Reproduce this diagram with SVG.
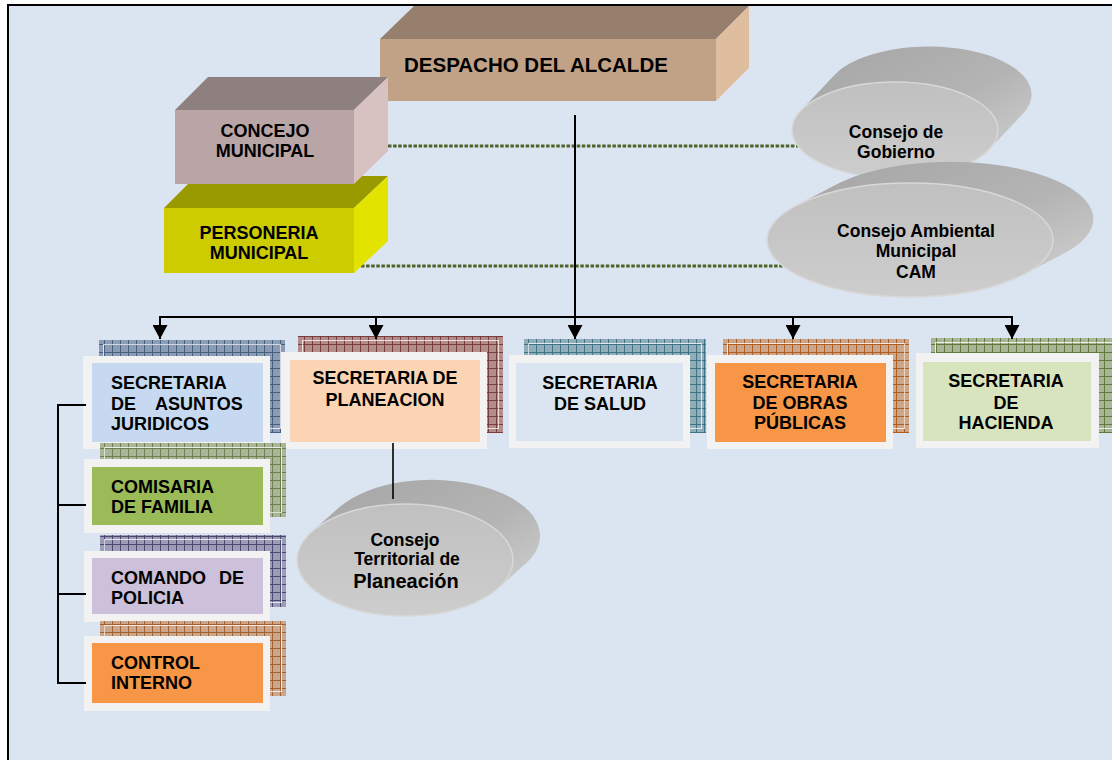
<svg xmlns="http://www.w3.org/2000/svg" width="1112" height="760" viewBox="0 0 1112 760">
<defs>
<style>
text{font-family:"Liberation Sans",Arial,sans-serif;font-weight:bold;fill:#000}
.t18{font-size:18px}
.t17{font-size:17.5px}
.mid{text-anchor:middle}
.frame{fill:#F2F2F2}
.conn{fill:none;stroke:#000;stroke-width:2}
.dot{fill:none;stroke:#4F6228;stroke-width:3;stroke-dasharray:3.5 1.6}
.hl{fill:none;stroke:#FFFFFF;stroke-opacity:0.75;stroke-width:1}
.cylBody{fill:url(#gBody)}
.cylFront{fill:url(#gFront);stroke:#D8D8D8;stroke-width:1.5}
</style>
<marker id="arr" viewBox="0 0 14 15" refX="14" refY="7.5" markerWidth="14" markerHeight="15" markerUnits="userSpaceOnUse" orient="auto"><path d="M0,0 L14,7.5 L0,15 z" fill="#000"/></marker>
<linearGradient id="gBody" x1="0" y1="0" x2="1" y2="1"><stop offset="0" stop-color="#A4A4A4"/><stop offset="0.55" stop-color="#B4B4B4"/><stop offset="1" stop-color="#D6D6D6"/></linearGradient>
<linearGradient id="gFront" x1="0" y1="0" x2="0" y2="1"><stop offset="0" stop-color="#C0C0C0"/><stop offset="1" stop-color="#CDCDCD"/></linearGradient>
<pattern id="pJur" width="8" height="8" patternUnits="userSpaceOnUse"><rect width="8" height="8" fill="#8C9CB4"/><path d="M0 0.5H8M0.5 0V8" stroke="#44607F" stroke-width="1"/></pattern>
<pattern id="pPla" width="8" height="8" patternUnits="userSpaceOnUse"><rect width="8" height="8" fill="#B38C8C"/><path d="M0 0.5H8M0.5 0V8" stroke="#7A3B3B" stroke-width="1"/></pattern>
<pattern id="pSal" width="8" height="8" patternUnits="userSpaceOnUse"><rect width="8" height="8" fill="#90AEBA"/><path d="M0 0.5H8M0.5 0V8" stroke="#3F7487" stroke-width="1"/></pattern>
<pattern id="pObr" width="8" height="8" patternUnits="userSpaceOnUse"><rect width="8" height="8" fill="#CBA68A"/><path d="M0 0.5H8M0.5 0V8" stroke="#B05E20" stroke-width="1"/></pattern>
<pattern id="pHac" width="8" height="8" patternUnits="userSpaceOnUse"><rect width="8" height="8" fill="#A9B696"/><path d="M0 0.5H8M0.5 0V8" stroke="#627A3E" stroke-width="1"/></pattern>
<pattern id="pCom" width="8" height="8" patternUnits="userSpaceOnUse"><rect width="8" height="8" fill="#A8B596"/><path d="M0 0.5H8M0.5 0V8" stroke="#6B7F4F" stroke-width="1"/></pattern>
<pattern id="pPol" width="8" height="8" patternUnits="userSpaceOnUse"><rect width="8" height="8" fill="#9C9CB6"/><path d="M0 0.5H8M0.5 0V8" stroke="#4A4870" stroke-width="1"/></pattern>
<pattern id="pCtl" width="8" height="8" patternUnits="userSpaceOnUse"><rect width="8" height="8" fill="#CAA78C"/><path d="M0 0.5H8M0.5 0V8" stroke="#A5602F" stroke-width="1"/></pattern>
</defs>

<rect x="8" y="5" width="1120" height="800" fill="#DBE5F1" stroke="#000" stroke-width="2"/>

<g id="connectors-dotted">
<path class="dot" d="M388 146 H799"/>
<path class="dot" d="M361 266 H784"/>
</g>

<g id="despacho">
<polygon points="380,39 414,6 749,6 716,39" fill="#977F6D"/>
<polygon points="716,39 749,6 749,68 716,101" fill="#DFBD9F"/>
<rect x="380" y="39" width="336" height="62" fill="#C2A287"/>
<text x="404" y="72" style="font-size:20.5px">DESPACHO DEL ALCALDE</text>
</g>

<g id="personeria">
<polygon points="164,208 196,176 388,176 354,208" fill="#999900"/>
<polygon points="354,208 388,176 388,241 354,273" fill="#E3E300"/>
<rect x="164" y="208" width="190" height="65" fill="#CCCC00"/>
<text class="t18 mid" x="259" y="239">PERSONERIA</text>
<text class="t18 mid" x="259" y="259">MUNICIPAL</text>
</g>

<g id="concejo">
<polygon points="175,110 208,77 388,77 354,110" fill="#8F8080"/>
<polygon points="354,110 388,77 388,151 354,184" fill="#D8C1C1"/>
<rect x="175" y="110" width="179" height="74" fill="#B9A5A5"/>
<text class="t18 mid" x="265" y="137">CONCEJO</text>
<text class="t18 mid" x="265" y="157">MUNICIPAL</text>
</g>

<g id="consejo-gobierno">
<path class="cylBody" d="M834.7 74.7 A103 48 0 0 1 1023.3 113.3 L989.3 149.3 A103 48 0 0 1 800.7 110.7 Z"/>
<ellipse class="cylFront" cx="895" cy="130" rx="103" ry="48"/>
<text class="t17 mid" x="896" y="138">Consejo de</text>
<text class="t17 mid" x="896" y="158">Gobierno</text>
</g>

<g id="consejo-ambiental">
<path class="cylBody" d="M838.2 183.5 A143 57 0 0 1 1065.8 252.5 L1023.8 274.5 A143 57 0 0 1 796.2 205.5 Z"/>
<ellipse class="cylFront" cx="910" cy="240" rx="143" ry="57"/>
<text class="t17 mid" x="916" y="237">Consejo Ambiental</text>
<text class="t17 mid" x="916" y="257">Municipal</text>
<text class="t17 mid" x="916" y="278">CAM</text>
</g>

<g id="consejo-territorial">
<path class="cylBody" d="M339.6 506.9 A108 56 0 0 1 526.4 563.1 L498.4 588.1 A108 56 0 0 1 311.6 531.9 Z"/>
<ellipse class="cylFront" cx="405" cy="560" rx="108" ry="56"/>
<text class="t17 mid" x="405" y="546">Consejo</text>
<text class="t17 mid" x="407" y="565">Territorial de</text>
<text class="mid" x="406" y="588" style="font-size:20px">Planeación</text>
</g>

<g id="sec-juridicos">
<rect x="99" y="340" width="186" height="93" fill="url(#pJur)"/>
<rect class="hl" x="103.5" y="344.5" width="177" height="84"/>
<rect class="frame" x="83" y="356" width="187" height="93"/>
<rect x="92" y="363" width="171" height="79" fill="#C6D9F1"/>
<text class="t18" x="111" y="389">SECRETARIA</text>
<text class="t18" y="410"><tspan x="111">DE</tspan><tspan x="155">ASUNTOS</tspan></text>
<text class="t18" x="111" y="430">JURIDICOS</text>
</g>

<g id="sec-planeacion">
<rect x="298" y="336" width="205" height="97" fill="url(#pPla)"/>
<rect class="hl" x="302.5" y="340.5" width="196" height="88"/>
<rect class="frame" x="281" y="352" width="206" height="97"/>
<rect x="290" y="360" width="190" height="82" fill="#FBD4B4"/>
<text class="t18 mid" x="385" y="384">SECRETARIA DE</text>
<text class="t18 mid" x="385" y="406">PLANEACION</text>
</g>

<g id="sec-salud">
<rect x="524" y="339" width="182" height="94" fill="url(#pSal)"/>
<rect class="hl" x="528.5" y="343.5" width="173" height="85"/>
<rect class="frame" x="509" y="355" width="181" height="93"/>
<rect x="516" y="363" width="167" height="78" fill="#DBE5F1"/>
<text class="t18 mid" x="600" y="389">SECRETARIA</text>
<text class="t18 mid" x="600" y="410">DE SALUD</text>
</g>

<g id="sec-obras">
<rect x="723" y="339" width="186" height="94" fill="url(#pObr)"/>
<rect class="hl" x="727.5" y="343.5" width="177" height="85"/>
<rect class="frame" x="707" y="355" width="186" height="94"/>
<rect x="715" y="363" width="171" height="79" fill="#F79646"/>
<text class="t18 mid" x="800" y="388">SECRETARIA</text>
<text class="t18 mid" x="800" y="409">DE OBRAS</text>
<text class="t18 mid" x="800" y="429">PÚBLICAS</text>
</g>

<g id="sec-hacienda">
<rect x="931" y="338" width="190" height="95" fill="url(#pHac)"/>
<rect class="hl" x="935.5" y="342.5" width="181" height="86"/>
<rect class="frame" x="916" y="353" width="183" height="95"/>
<rect x="923" y="362" width="168" height="79" fill="#D7E4BD"/>
<text class="t18 mid" x="1006" y="387">SECRETARIA</text>
<text class="t18 mid" x="1006" y="409">DE</text>
<text class="t18 mid" x="1006" y="429">HACIENDA</text>
</g>

<g id="comisaria">
<rect x="100" y="443" width="186" height="74" fill="url(#pCom)"/>
<rect class="hl" x="104.5" y="447.5" width="177" height="65"/>
<rect class="frame" x="84" y="459" width="186" height="74"/>
<rect x="92" y="467" width="171" height="58" fill="#9BBB59"/>
<text class="t18" x="111" y="493">COMISARIA</text>
<text class="t18" x="111" y="513">DE FAMILIA</text>
</g>

<g id="comando">
<rect x="100" y="535" width="186" height="72" fill="url(#pPol)"/>
<rect class="hl" x="104.5" y="539.5" width="177" height="63"/>
<rect class="frame" x="84" y="551" width="186" height="71"/>
<rect x="92" y="558" width="171" height="56" fill="#CCC0DA"/>
<text class="t18" y="584"><tspan x="111">COMANDO</tspan><tspan x="219">DE</tspan></text>
<text class="t18" x="111" y="604">POLICIA</text>
</g>

<g id="control">
<rect x="100" y="621" width="186" height="75" fill="url(#pCtl)"/>
<rect class="hl" x="104.5" y="625.5" width="177" height="66"/>
<rect class="frame" x="84" y="636" width="186" height="75"/>
<rect x="92" y="643" width="171" height="60" fill="#F79646"/>
<text class="t18" x="111" y="669">CONTROL</text>
<text class="t18" x="111" y="689">INTERNO</text>
</g>

<g id="connectors">
<path class="conn" d="M160 317 H1012"/>
<path class="conn" d="M575 115 V339" marker-end="url(#arr)"/>
<path class="conn" d="M160 316 V339" marker-end="url(#arr)"/>
<path class="conn" d="M376 316 V339" marker-end="url(#arr)"/>
<path class="conn" d="M793 316 V339" marker-end="url(#arr)"/>
<path class="conn" d="M1012 316 V339" marker-end="url(#arr)"/>
<path class="conn" d="M58 405 V683 M57 405 H86 M58 505 H86 M58 594 H86 M57 683 H86"/>
<path class="conn" d="M393 443 V499" style="stroke-width:1.6"/>
</g>
</svg>
